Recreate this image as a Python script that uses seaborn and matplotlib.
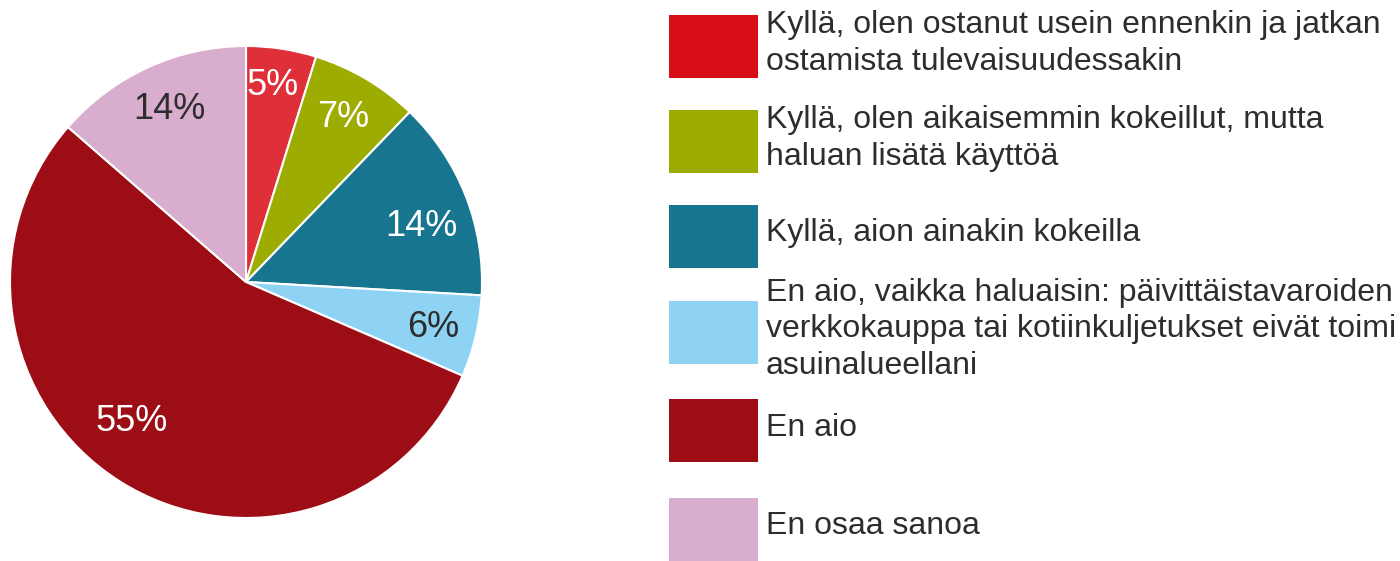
import numpy as np
import seaborn as sns
import matplotlib.pyplot as plt
from matplotlib.patches import Rectangle

OUTPUT_FILE = "out.png"

# answer categories (legend order = pie order, clockwise from 12 o'clock)
categories = [
    "Kyllä, olen ostanut usein ennenkin ja jatkan\nostamista tulevaisuudessakin",
    "Kyllä, olen aikaisemmin kokeillut, mutta\nhaluan lisätä käyttöä",
    "Kyllä, aion ainakin kokeilla",
    "En aio, vaikka haluaisin: päivittäistavaroiden\nverkkokauppa tai kotiinkuljetukset eivät toimi\nasuinalueellani",
    "En aio",
    "En osaa sanoa",
]
shares = [4.8, 7.4, 13.7, 5.6, 54.9, 13.6]

pie_colors = ["#df2f39", "#9cac00", "#18758f", "#8ed3f4", "#9c0d15", "#d8adce"]
legend_colors = ["#d80e17", "#9cac00", "#18758f", "#8ed3f4", "#9c0d15", "#d8adce"]
label_colors = ["white", "white", "white", "#2d2d2d", "white", "#2d2d2d"]
# excel-ish label placement: angle tweak (deg) and radius per wedge
label_turn = [-0.8, -0.2, 4.0, 0.5, 7.0, 0.4]
label_dist = [0.84, 0.81, 0.78, 0.815, 0.765, 0.80]

sns.set_theme(style="white")
plt.rcParams["font.family"] = ["Liberation Sans", "DejaVu Sans"]

W, H = 1400, 561
fig = plt.figure(figsize=(W / 100, H / 100), dpi=100)

# pie: centre (246, 282) px, radius 236 px
cx, cy, r = 246, 282, 236
ax = fig.add_axes([(cx - r) / W, (H - cy - r) / H, 2 * r / W, 2 * r / H])
wedges, texts, autotexts = ax.pie(
    shares,
    colors=sns.color_palette(pie_colors),
    startangle=90,
    counterclock=False,
    radius=1,
    autopct="%.0f%%",
    pctdistance=0.8,
    wedgeprops=dict(edgecolor="white", linewidth=1.5),
    textprops=dict(fontsize=26),
)
for w, t, c, turn, dist in zip(wedges, autotexts, label_colors, label_turn, label_dist):
    mid = np.deg2rad((w.theta1 + w.theta2) / 2 - turn)
    t.set_position((dist * np.cos(mid), dist * np.sin(mid)))
    t.set_color(c)
ax.set_xlim(-1, 1)
ax.set_ylim(-1, 1)
ax.set_aspect("equal")
ax.axis("off")

# hand-built legend on the right
px, pw, ph = 669, 89, 63
tops = [15, 110, 205, 301, 399, 498]
for top, col, label in zip(tops, legend_colors, categories):
    fig.patches.append(Rectangle((px / W, (H - top - ph) / H), pw / W, ph / H,
                                 transform=fig.transFigure, color=col, lw=0))
    fig.text(766 / W, (H - top - ph / 2 + 3) / H, label, fontsize=23,
             color="#2d2d2d", va="center", ha="left", linespacing=1.28)

plt.savefig(OUTPUT_FILE, dpi=100)
